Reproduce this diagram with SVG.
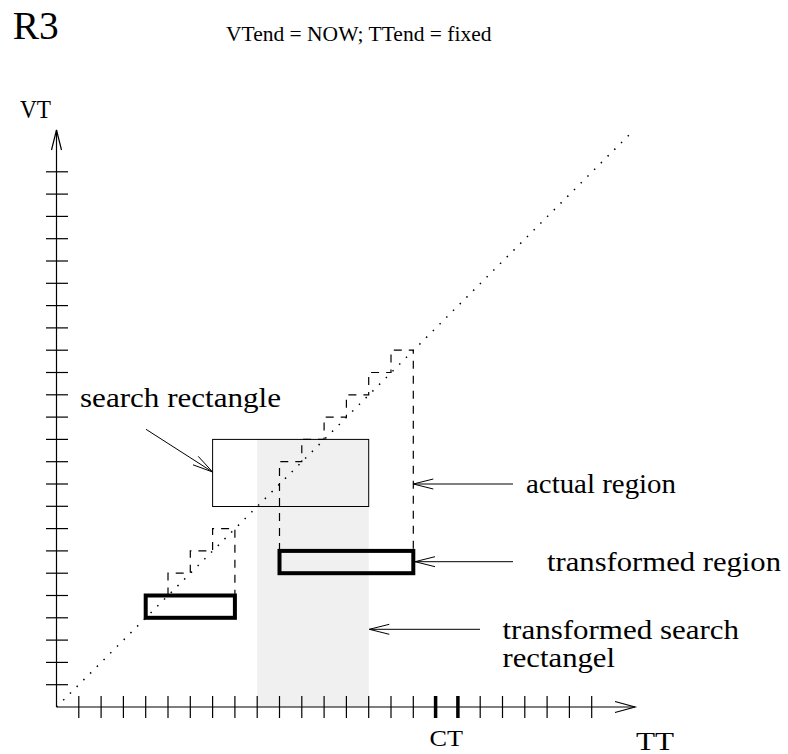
<svg xmlns="http://www.w3.org/2000/svg" width="788" height="754" viewBox="0 0 788 754">
  <style>
    text { font-family: "Liberation Serif", "Times New Roman", serif; fill: #000; }
    .axis { stroke: #000; stroke-width: 1.2; fill: none; }
    .tick { stroke: #000; stroke-width: 1.2; }
    .bold { stroke: #000; stroke-width: 3.5; }
    .thin { stroke: #000; stroke-width: 1; fill: none; }
    .dash { stroke: #000; stroke-width: 1.2; fill: none; stroke-dasharray: 8 7; }
    .dots { stroke: #000; stroke-width: 1.5; stroke-dasharray: 1.5 8; }
    .thick { stroke: #000; stroke-width: 4; fill: none; }
    .lbl { font-size: 27px; }
  </style>
  <rect width="788" height="754" fill="#fff"/>

  <!-- titles -->
  <text x="12.7" y="39.3" font-size="40" textLength="46" lengthAdjust="spacingAndGlyphs">R3</text>
  <text x="226" y="41" font-size="21.5">VTend = NOW; TTend = fixed</text>

  <!-- shaded transformed search rectangle -->
  <g id="transformed-search-area">
    <rect x="257.2" y="439.4" width="111.5" height="267.6" fill="#f0f0f0"/>
  </g>

  <!-- axes -->
  <g id="axes">
    <line class="axis" x1="56.5" y1="707" x2="56.5" y2="130"/>
    <polyline class="axis" points="51.5,150 56.5,130 61.5,150"/>
    <line class="axis" x1="56.5" y1="707" x2="635" y2="707"/>
    <polyline class="axis" points="615,701.5 635,707 615,712.5"/>
    <g id="vt-ticks">
      <line class="tick" x1="46" y1="684.7" x2="68" y2="684.7"/>
      <line class="tick" x1="46" y1="662.4" x2="68" y2="662.4"/>
      <line class="tick" x1="46" y1="640.1" x2="68" y2="640.1"/>
      <line class="tick" x1="46" y1="617.8" x2="68" y2="617.8"/>
      <line class="tick" x1="46" y1="595.5" x2="68" y2="595.5"/>
      <line class="tick" x1="46" y1="573.2" x2="68" y2="573.2"/>
      <line class="tick" x1="46" y1="550.9" x2="68" y2="550.9"/>
      <line class="tick" x1="46" y1="528.6" x2="68" y2="528.6"/>
      <line class="tick" x1="46" y1="506.3" x2="68" y2="506.3"/>
      <line class="tick" x1="46" y1="484" x2="68" y2="484"/>
      <line class="tick" x1="46" y1="461.7" x2="68" y2="461.7"/>
      <line class="tick" x1="46" y1="439.4" x2="68" y2="439.4"/>
      <line class="tick" x1="46" y1="417.1" x2="68" y2="417.1"/>
      <line class="tick" x1="46" y1="394.8" x2="68" y2="394.8"/>
      <line class="tick" x1="46" y1="372.5" x2="68" y2="372.5"/>
      <line class="tick" x1="46" y1="350.2" x2="68" y2="350.2"/>
      <line class="tick" x1="46" y1="327.9" x2="68" y2="327.9"/>
      <line class="tick" x1="46" y1="305.6" x2="68" y2="305.6"/>
      <line class="tick" x1="46" y1="283.3" x2="68" y2="283.3"/>
      <line class="tick" x1="46" y1="261" x2="68" y2="261"/>
      <line class="tick" x1="46" y1="238.7" x2="68" y2="238.7"/>
      <line class="tick" x1="46" y1="216.4" x2="68" y2="216.4"/>
      <line class="tick" x1="46" y1="194.1" x2="68" y2="194.1"/>
      <line class="tick" x1="46" y1="171.8" x2="68" y2="171.8"/>
    </g>
    <g id="tt-ticks">
      <line class="tick" x1="78.8" y1="696" x2="78.8" y2="718"/>
      <line class="tick" x1="101.1" y1="696" x2="101.1" y2="718"/>
      <line class="tick" x1="123.4" y1="696" x2="123.4" y2="718"/>
      <line class="tick" x1="145.7" y1="696" x2="145.7" y2="718"/>
      <line class="tick" x1="168" y1="696" x2="168" y2="718"/>
      <line class="tick" x1="190.3" y1="696" x2="190.3" y2="718"/>
      <line class="tick" x1="212.6" y1="696" x2="212.6" y2="718"/>
      <line class="tick" x1="234.9" y1="696" x2="234.9" y2="718"/>
      <line class="tick" x1="257.2" y1="696" x2="257.2" y2="718"/>
      <line class="tick" x1="279.5" y1="696" x2="279.5" y2="718"/>
      <line class="tick" x1="301.8" y1="696" x2="301.8" y2="718"/>
      <line class="tick" x1="324.1" y1="696" x2="324.1" y2="718"/>
      <line class="tick" x1="346.4" y1="696" x2="346.4" y2="718"/>
      <line class="tick" x1="368.7" y1="696" x2="368.7" y2="718"/>
      <line class="tick" x1="391" y1="696" x2="391" y2="718"/>
      <line class="tick" x1="413.3" y1="696" x2="413.3" y2="718"/>
      <line class="bold" x1="435.6" y1="696" x2="435.6" y2="718"/>
      <line class="bold" x1="457.9" y1="696" x2="457.9" y2="718"/>
      <line class="tick" x1="480.2" y1="696" x2="480.2" y2="718"/>
      <line class="tick" x1="502.5" y1="696" x2="502.5" y2="718"/>
      <line class="tick" x1="524.8" y1="696" x2="524.8" y2="718"/>
      <line class="tick" x1="547.1" y1="696" x2="547.1" y2="718"/>
      <line class="tick" x1="569.4" y1="696" x2="569.4" y2="718"/>
      <line class="tick" x1="591.7" y1="696" x2="591.7" y2="718"/>
    </g>
    <text x="20" y="118" font-size="25" textLength="31" lengthAdjust="spacingAndGlyphs">VT</text>
    <text x="429.5" y="746" font-size="24" textLength="33.5" lengthAdjust="spacingAndGlyphs">CT</text>
    <text x="636" y="750" font-size="25" textLength="38" lengthAdjust="spacingAndGlyphs">TT</text>
  </g>

  <!-- diagonal VT = TT -->
  <line class="dots" x1="56.5" y1="707" x2="633" y2="131"/>

  <g id="search-rectangle">
    <rect class="thin" x="212.6" y="439.4" width="156.1" height="67.1"/>
  </g>

  <g id="small-region">
    <rect class="thick" x="145.7" y="595.5" width="89.2" height="22.3"/>
  </g>

  <g id="transformed-region">
    <rect class="thick" x="279.5" y="550.9" width="133.8" height="22.3"/>
  </g>

  <g id="connectors">
    <!-- staircase outlines of the actual regions -->
    <path class="dash" d="M168,595.5 V573.2 H190.3 V550.9 H212.6 V528.6 H234.9 V595.5"/>
    <path class="dash" d="M279.5,550.9 V461.7 H301.8 V439.4 H324.1 V417.1 H346.4 V394.8 H368.7 V372.5 H391 V350.2 H413.3 V550.9"/>
    <!-- label pointers -->
    <line class="thin" x1="146" y1="429.3" x2="212.6" y2="472"/>
    <polyline class="thin" points="193,464.8 212.6,472 198.2,456.3"/>
    <line class="thin" x1="513" y1="484" x2="413.3" y2="484"/>
    <polyline class="thin" points="433.3,479 413.3,484 433.3,489"/>
    <line class="thin" x1="513" y1="561.7" x2="415" y2="561.7"/>
    <polyline class="thin" points="435,556.7 415,561.7 435,566.7"/>
    <line class="thin" x1="480" y1="629.3" x2="369.3" y2="629.3"/>
    <polyline class="thin" points="389.3,624.3 369.3,629.3 389.3,634.3"/>
  </g>

  <g id="labels">
    <text class="lbl" x="80" y="406.5" textLength="201" lengthAdjust="spacingAndGlyphs">search rectangle</text>
    <text class="lbl" x="526" y="492.5" textLength="150" lengthAdjust="spacingAndGlyphs">actual region</text>
    <text class="lbl" x="547" y="570.5" textLength="234" lengthAdjust="spacingAndGlyphs">transformed region</text>
    <text class="lbl" x="502.5" y="639" textLength="236.5" lengthAdjust="spacingAndGlyphs">transformed search</text>
    <text class="lbl" x="502.5" y="666.5" textLength="112.5" lengthAdjust="spacingAndGlyphs">rectangel</text>
  </g>
</svg>
